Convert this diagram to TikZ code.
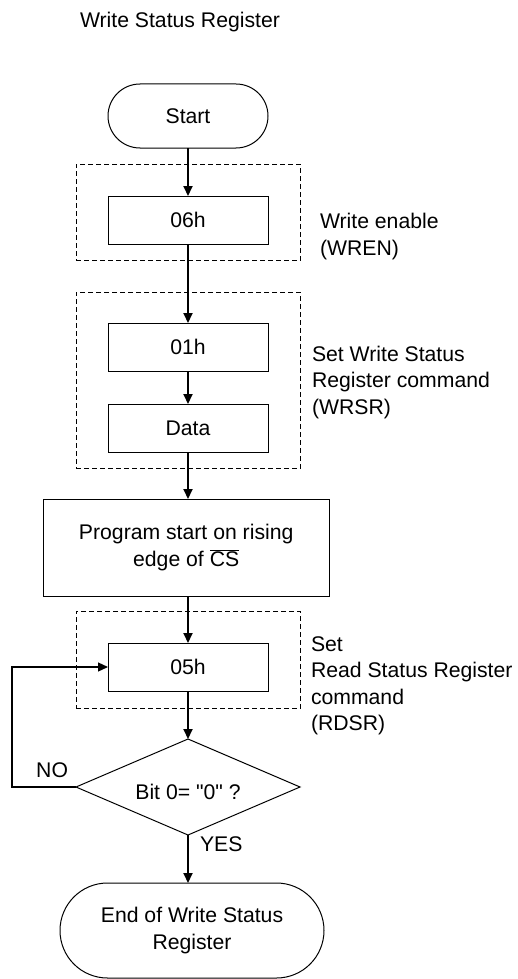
\documentclass[tikz,border=0pt]{standalone}
\usepackage{fontspec}
\setmainfont{Liberation Sans}[Ligatures=TeXOff]
\usetikzlibrary{arrows.meta,shapes.geometric}
\begin{document}
\begin{tikzpicture}[x=1pt,y=-1pt,
  every node/.style={font=\fontsize{21.2}{26.5}\selectfont, inner sep=0pt, outer sep=0pt},
  box/.style={draw, line width=1pt, minimum width=160pt, minimum height=48pt},
  term/.style={draw, line width=1pt, rounded corners=#1},
  grp/.style={draw, line width=1pt, dash pattern=on 5pt off 3pt, minimum width=224.5pt},
  conn/.style={line width=2pt, -{Triangle[length=10pt,width=9pt]}},
  loopline/.style={line width=1.2pt, -{Triangle[length=10pt,width=9pt]}},
  note/.style={anchor=west, align=left}]
\useasboundingbox (0,0) rectangle (518,979);

\node[anchor=base west] (title) at (80,28) {Write Status Register};

\node[term=32pt, minimum width=160pt, minimum height=64pt] (start) at (188,116) {Start};

\node[grp, minimum height=96pt] (g1) at (188.3,212) {};
\node[box] (b06) at (188,220) {06h};
\node[note] (n1) at (320,236.5) {Write enable\\(WREN)};

\node[grp, minimum height=176pt] (g2) at (188.3,380) {};
\node[box] (b01) at (188,347) {01h};
\node[box] (data) at (188,428) {Data};
\node[note] (n2) at (312,382.5) {Set Write Status\\Register command\\(WRSR)};

\node[draw, line width=1pt, minimum width=286pt, minimum height=97pt, align=center] (prog) at (186.2,547.5)
  {Program start on rising\\edge of $\overline{\mbox{CS}}$};

\node[grp, minimum height=97pt] (g3) at (188.3,659.5) {};
\node[box] (b05) at (188,667) {05h};
\node[note] (n3) at (311,686) {Set\\Read Status Register\\command\\(RDSR)};

\node[draw, line width=1pt, diamond, shape aspect=2.33, minimum width=224pt, minimum height=96pt] (dia) at (188,787) {};
\node (diat) at (188,792) {Bit 0= "0" ?};

\node[term=47.5pt, minimum width=264pt, minimum height=95pt, align=center] (end) at (192,930.5)
  {End of Write Status\\Register};

\node[anchor=base east] (no) at (68,777) {NO};
\node[anchor=base west] (yes) at (200,851) {YES};

\draw[conn] (start) -- (b06);
\draw[conn] (b06) -- (b01);
\draw[conn] (b01) -- (data);
\draw[conn] (data.south) -- (data.south |- prog.north);
\draw[conn] (prog.south -| b05) -- (b05.north);
\draw[conn] (b05) -- (dia.north);
\draw[conn] (dia.south) -- (dia.south |- end.north);
\draw[loopline] (dia.west) -- ++(-64,0) |- (b05.west);
\end{tikzpicture}
\end{document}
